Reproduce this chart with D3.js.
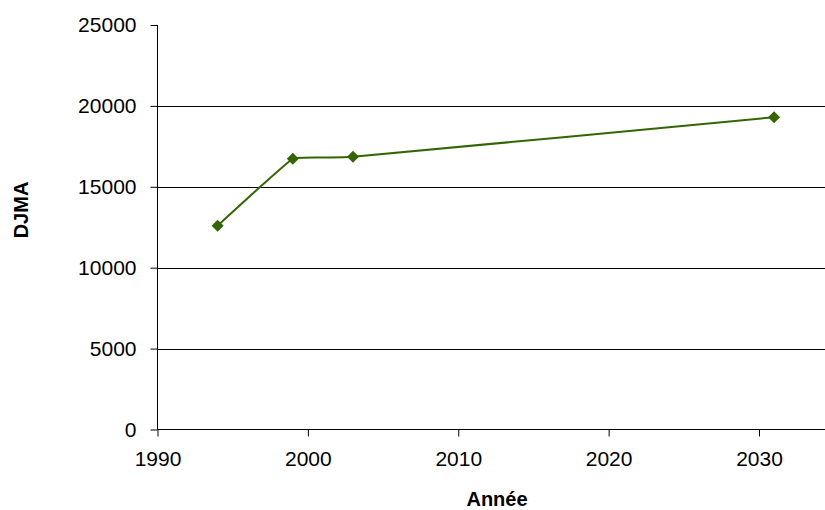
<!DOCTYPE html>
<html><head><meta charset="utf-8">
<script src="https://cdn.jsdelivr.net/npm/d3@7"></script>
<style>body{margin:0;background:#fff;}svg{display:block;}</style>
</head><body>
<svg id="c" width="825" height="510"></svg>
<script>
const years = [1994, 1999, 2003, 2031];
const djma = [12600, 16730, 16850, 19300];
const xTicks = [1990, 2000, 2010, 2020, 2030];
const yTicks = [0, 5000, 10000, 15000, 20000, 25000];
const xTitle = "Année";
const yTitle = "DJMA";

const svg = d3.select("#c");
const L = 157.5, R = 825, T = 25, B = 429.5;
const x = d3.scaleLinear().domain([1990, 2030]).range([L, 759]);
const y = d3.scaleLinear().domain([0, 25000]).range([B, T]);
const font = "'Liberation Sans', Arial, sans-serif";

// gridlines
svg.append("g").selectAll("line").data(yTicks.filter(v => v > 0 && v < 25000)).join("line")
  .attr("x1", L).attr("x2", R)
  .attr("y1", d => Math.round(y(d)) + 0.5).attr("y2", d => Math.round(y(d)) + 0.5)
  .attr("stroke", "#000").attr("stroke-width", 1);

// y axis
const ya = svg.append("g").attr("transform", `translate(${L},0)`)
  .call(d3.axisLeft(y).tickValues(yTicks).tickSize(7).tickPadding(14).tickFormat(d3.format("d")));
ya.select(".domain").attr("d", `M0,${T}V${B}`).attr("stroke", "#000");
ya.selectAll(".tick line").attr("stroke", "#000");
ya.selectAll("text").attr("font-family", font).attr("font-size", 21).attr("fill", "#000");

// x axis
const xa = svg.append("g").attr("transform", `translate(0,${B})`)
  .call(d3.axisBottom(x).tickValues(xTicks).tickSize(7).tickPadding(15).tickFormat(d3.format("d")));
xa.select(".domain").attr("d", `M${L},0H${R}`).attr("stroke", "#000");
xa.selectAll(".tick line").attr("stroke", "#000");
xa.selectAll("text").attr("font-family", font).attr("font-size", 21).attr("fill", "#000");

// line
const data = years.map((yr, i) => ({yr, v: djma[i]}));
svg.append("path").datum(data)
  .attr("d", d3.line().x(d => x(d.yr)).y(d => y(d.v)).curve(d3.curveCardinal.tension(0.75)))
  .attr("fill", "none").attr("stroke", "#336600").attr("stroke-width", 2);

// markers
svg.append("g").selectAll("path").data(data).join("path")
  .attr("transform", d => `translate(${x(d.yr)},${y(d.v)})`)
  .attr("d", "M0,-6L6,0L0,6L-6,0Z")
  .attr("fill", "#336600");

// titles
svg.append("text").attr("x", 497).attr("y", 506)
  .attr("text-anchor", "middle").attr("font-family", font).attr("font-weight", "bold")
  .attr("font-size", 20).text(xTitle);
svg.append("text").attr("transform", "translate(28,210) rotate(-90)")
  .attr("text-anchor", "middle").attr("font-family", font).attr("font-weight", "bold")
  .attr("font-size", 20).text(yTitle);
</script>
</body></html>
